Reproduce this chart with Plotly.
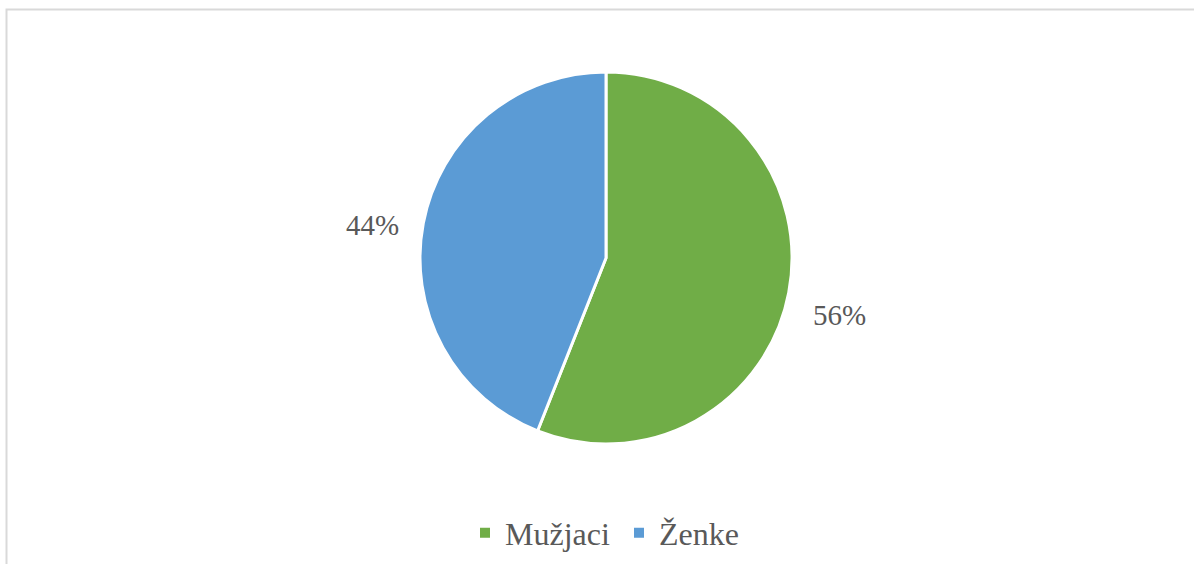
import math
import plotly.graph_objects as go

labels = ["Mužjaci", "Ženke"]
values = [56, 44]
colors = ["#70AD47", "#5B9BD5"]

W, H = 1194, 564
cx, cy, r = 606, 258, 186
FONT = "Liberation Serif"

fig = go.Figure()
fig.add_trace(go.Pie(
    labels=labels,
    values=values,
    sort=False,
    direction="clockwise",
    rotation=0,
    marker=dict(colors=colors, line=dict(color="white", width=3)),
    textinfo="none",
    domain=dict(x=[(cx - r) / W, (cx + r) / W], y=[1 - (cy + r) / H, 1 - (cy - r) / H]),
    hoverinfo="label+percent",
))

# outside percentage labels, placed along each slice's mid angle
total = sum(values)
annotations = []
cum = 0
R = 238
for v in values:
    mid = (cum + v / 2) / total * 2 * math.pi
    cum += v
    px = cx + R * math.sin(mid)
    py = cy - R * math.cos(mid) + 12
    annotations.append(dict(
        x=px / W, y=1 - py / H, xref="paper", yref="paper",
        text=f"{round(v / total * 100)}%", showarrow=False,
        xanchor="center", yanchor="middle",
        font=dict(family=FONT, size=29, color="#595959"),
    ))

fig.update_layout(
    width=W, height=H,
    margin=dict(l=0, r=0, t=0, b=0),
    paper_bgcolor="white",
    plot_bgcolor="white",
    font=dict(family=FONT, color="#595959"),
    showlegend=True,
    legend=dict(
        orientation="h",
        x=0.5 + 22 / W, xanchor="center",
        y=1 - 533 / H, yanchor="middle",
        font=dict(family=FONT, size=32, color="#595959"),
        itemsizing="constant",
        itemwidth=30,
        entrywidth=109,
        entrywidthmode="pixels",
    ),
    annotations=annotations,
    shapes=[dict(
        type="rect", xref="paper", yref="paper",
        x0=6.5 / W, x1=1.05, y0=-0.05, y1=1 - 9.5 / H,
        line=dict(color="#D9D9D9", width=2),
        fillcolor="rgba(0,0,0,0)",
        layer="below",
    )],
)

fig.write_html(
    "out.html",
    config={"displayModeBar": False},
    post_script="document.body.style.margin='0';document.body.style.overflow='hidden';",
)
